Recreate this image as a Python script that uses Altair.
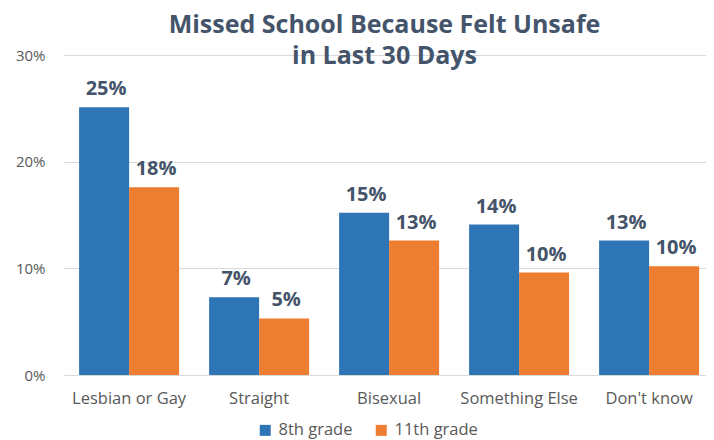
import altair as alt
import pandas as pd

categories = ["Lesbian or Gay", "Straight", "Bisexual", "Something Else", "Don't know"]
grades = ["8th grade", "11th grade"]
grade8 = [25.1, 7.3, 15.2, 14.1, 12.6]
grade11 = [17.6, 5.3, 12.6, 9.6, 10.2]
colors = ["#2E75B6", "#ED7D31"]
y_ticks = [0, 0.1, 0.2, 0.3]

rows = []
for i, c in enumerate(categories):
    rows.append({"category": c, "grade": grades[0], "value": grade8[i] / 100})
    rows.append({"category": c, "grade": grades[1], "value": grade11[i] / 100})
df = pd.DataFrame(rows)

FONT = "Open Sans"
TEXTC = "#44546A"
AXC = "#595959"

base = alt.Chart(df).encode(
    x=alt.X("category:N", sort=categories,
            scale=alt.Scale(paddingInner=0.2308, paddingOuter=0.0885, align=0.7),
            axis=alt.Axis(title=None, labelAngle=0, domain=False, ticks=False,
                          labelFontSize=16.5, labelColor=AXC, labelFont=FONT,
                          labelPadding=15)),
    xOffset=alt.XOffset("grade:N", sort=grades),
    y=alt.Y("value:Q", scale=alt.Scale(domain=[0, 0.3], nice=False),
            axis=alt.Axis(title=None, format=".0%", values=y_ticks, domain=False,
                          ticks=False, labelFontSize=15, labelColor=AXC,
                          labelFont=FONT, labelPadding=18, gridColor="#D9D9D9")),
)

bars = base.mark_bar().encode(
    color=alt.Color("grade:N", sort=grades,
                    scale=alt.Scale(domain=grades, range=colors),
                    legend=alt.Legend(title=None, orient="none", legendX=194, legendY=367,
                                      direction="horizontal", symbolType="square",
                                      symbolSize=121, symbolStrokeWidth=0,
                                      labelFontSize=16.5, labelColor=AXC, labelFont=FONT,
                                      columnPadding=20, labelOffset=5))
)

text = base.mark_text(dy=-12, dx=2, baseline="alphabetic", fontSize=20, fontWeight="bold",
                      font=FONT, color=TEXTC).encode(
    text=alt.Text("value:Q", format=".0%")
)

chart = alt.layer(bars, text).properties(
    width=643, height=320,
    autosize=alt.AutoSizeParams(type="none"),
    padding={"left": 55, "top": 47, "right": 0, "bottom": 65},
    title=alt.Title(["Missed School Because Felt Unsafe", "in Last 30 Days"],
                    fontSize=25, font=FONT, fontWeight="bold", color=TEXTC,
                    anchor="middle", lineHeight=31, offset=0, dy=21),
).configure_view(stroke=None)

chart.save("out.html", embed_options={"renderer": "svg", "actions": False})
